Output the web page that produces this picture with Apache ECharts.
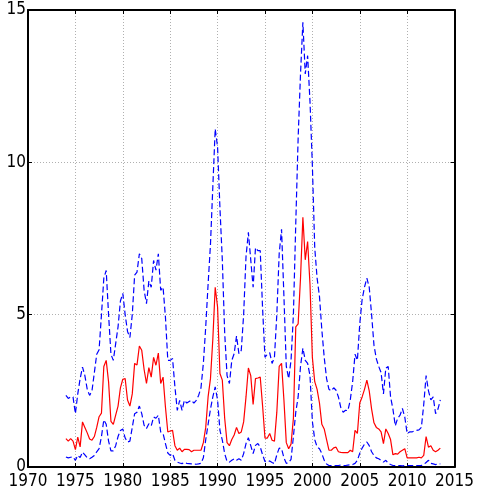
<!DOCTYPE html>
<html>
<head>
<meta charset="utf-8">
<script src="https://cdn.jsdelivr.net/npm/echarts@6/dist/echarts.min.js"></script>
<style>
  html, body { margin: 0; padding: 0; background: #fff; }
  #main { width: 477px; height: 496px; }
</style>
</head>
<body>
<div id="main"></div>
<script>
// quarterly observations, 1974Q1 .. 2013Q3
const startYear = 1974;
const step = 0.25;

const median = [
  0.93, 0.85, 0.93, 0.85, 0.57, 0.98, 0.66, 1.48, 1.3, 1.12,
  0.92, 0.88, 1.0, 1.3, 1.65, 1.77, 3.3, 3.5, 2.8, 1.5,
  1.4, 1.7, 2.0, 2.6, 2.88, 2.9, 2.2, 2.0, 2.4, 3.4,
  3.35, 3.97, 3.83, 3.2, 2.74, 3.26, 2.95, 3.6, 3.34, 3.74,
  2.74, 2.95, 1.97, 1.15, 1.18, 1.2, 0.7, 0.55, 0.62, 0.5,
  0.58, 0.58, 0.57, 0.5, 0.55, 0.55, 0.55, 0.55, 0.8, 1.3,
  2.3, 2.9, 4.2, 5.9, 5.25, 3.07, 2.85, 1.6, 0.8, 0.7,
  0.9, 1.05, 1.3, 1.1, 1.15, 1.48, 2.3, 3.25, 3.0, 2.05,
  2.9, 2.92, 2.95, 2.0, 0.95, 0.95, 1.1, 0.88, 0.85, 1.8,
  3.3, 3.4, 2.2, 0.8, 0.6, 0.75, 1.6, 4.6, 4.7, 6.2,
  8.2, 6.8, 7.4, 6.0, 3.6, 2.8, 2.55, 2.1, 1.4, 1.25,
  0.9, 0.55, 0.55, 0.63, 0.65, 0.5, 0.48, 0.47, 0.47, 0.47,
  0.55, 0.5, 1.2, 1.1, 2.1, 2.3, 2.55, 2.85, 2.5, 1.9,
  1.45, 1.3, 1.25, 1.15, 0.77, 1.25, 1.1, 0.9, 0.4, 0.44,
  0.42, 0.5, 0.55, 0.6, 0.3, 0.3, 0.3, 0.3, 0.3, 0.32,
  0.3, 0.38, 1.0, 0.65, 0.7, 0.55, 0.5, 0.55, 0.62
];

const upper = [
  2.35, 2.25, 2.3, 2.3, 1.75, 2.4, 2.9, 3.28, 3.0, 2.55,
  2.35, 2.5, 3.1, 3.7, 3.85, 5.0, 6.2, 6.45, 5.0, 3.7,
  3.5, 4.05, 4.6, 5.45, 5.7, 5.0, 4.45, 4.25, 5.0, 6.3,
  6.4, 7.0, 6.84, 5.8, 5.36, 6.1, 5.9, 6.78, 6.46, 7.0,
  5.8, 5.9, 4.92, 3.5, 3.5, 3.56, 2.63, 1.86, 2.19, 1.86,
  2.19, 2.1, 2.15, 2.19, 2.1, 2.19, 2.35, 2.6, 3.4, 4.6,
  6.0, 7.3, 9.2, 11.1, 10.5, 8.5, 6.8, 4.4, 3.0, 2.74,
  3.5, 3.72, 4.3, 3.72, 3.83, 5.0, 6.9, 7.7, 6.8, 5.9,
  7.2, 7.1, 7.1, 5.2, 3.6, 3.7, 3.75, 3.4, 3.6, 5.0,
  7.0, 7.8, 5.6, 3.3, 2.9, 3.5, 5.0, 8.0, 10.8, 12.9,
  14.6, 12.9, 13.5, 12.0, 9.9, 7.2, 6.2, 5.6, 4.5, 3.6,
  2.9, 2.55, 2.5, 2.6, 2.52, 2.3, 1.95, 1.8, 1.86, 1.85,
  2.2, 2.8, 3.7, 3.5, 4.7, 5.5, 5.9, 6.2, 5.9, 5.0,
  4.0, 3.55, 3.3, 3.1, 2.4, 3.25, 3.3, 2.3, 1.9, 1.35,
  1.6, 1.7, 1.92, 1.64, 1.1, 1.15, 1.15, 1.18, 1.2, 1.22,
  1.3, 2.05, 3.0, 2.5, 2.2, 2.3, 1.75, 1.9, 2.2
];

const lower = [
  0.33, 0.3, 0.32, 0.33, 0.22, 0.38, 0.31, 0.49, 0.4, 0.3,
  0.27, 0.32, 0.38, 0.5, 0.6, 1.0, 1.55, 1.4, 0.85, 0.53,
  0.53, 0.7, 1.0, 1.2, 1.25, 0.95, 0.82, 0.85, 1.3, 1.75,
  1.8, 2.0, 1.75, 1.37, 1.26, 1.42, 1.35, 1.64, 1.6, 1.7,
  1.15, 1.1, 0.77, 0.46, 0.38, 0.44, 0.22, 0.16, 0.13, 0.11,
  0.15, 0.12, 0.11, 0.1, 0.1, 0.09, 0.1, 0.12, 0.3, 0.9,
  1.4, 1.9, 2.3, 2.63, 2.2, 1.2, 0.88, 0.44, 0.18, 0.16,
  0.22, 0.27, 0.22, 0.27, 0.22, 0.44, 0.77, 0.96, 0.7, 0.44,
  0.71, 0.77, 0.66, 0.4, 0.18, 0.16, 0.2, 0.15, 0.11, 0.4,
  0.62, 0.6, 0.3, 0.12, 0.14, 0.25, 1.0, 1.8, 2.3, 3.3,
  3.9, 3.5, 3.4, 3.0, 1.5, 0.9, 0.66, 0.6, 0.44, 0.22,
  0.1, 0.05, 0.05, 0.05, 0.05, 0.05, 0.06, 0.05, 0.05, 0.06,
  0.07, 0.08, 0.12, 0.22, 0.45, 0.62, 0.75, 0.82, 0.7, 0.5,
  0.38, 0.3, 0.27, 0.22, 0.16, 0.22, 0.12, 0.08, 0.05, 0.05,
  0.05, 0.05, 0.04, 0.05, 0.05, 0.05, 0.05, 0.05, 0.05, 0.05,
  0.05, 0.08, 0.15, 0.22, 0.12, 0.1, 0.08, 0.1, 0.1
];

const xTicks = [1970, 1975, 1980, 1985, 1990, 1995, 2000, 2005, 2010, 2015];
const yTicks = [0, 5, 10, 15];

const toPairs = (arr) => arr.map((v, i) => [startYear + i * step, v]);

const font = '"Liberation Sans Narrow", "DejaVu Sans Condensed", "Liberation Sans", sans-serif';

let chart = echarts.init(document.getElementById("main"));

const frameAxis = {
  axisLine: { show: true, onZero: false, lineStyle: { color: "#000", width: 2 } },
  axisTick: { show: true, inside: true, length: 4, lineStyle: { color: "#000" } },
  splitLine: { show: false },
};

let option = {
  animation: false,
  backgroundColor: "#fff",
  grid: { left: 28, right: 15, top: 10, bottom: 29 },
  xAxis: [
    {
      type: "value",
      min: xTicks[0],
      max: xTicks[xTicks.length - 1],
      interval: 5,
      ...frameAxis,
      axisLabel: {
        color: "#000",
        fontFamily: font,
        fontSize: 17,
        margin: 6,
        formatter: (v) => String(v),
      },
      splitLine: {
        show: true,
        lineStyle: { color: "#b0b0b0", type: [1, 2], width: 1 },
      },
    },
    {
      type: "value",
      position: "top",
      min: xTicks[0],
      max: xTicks[xTicks.length - 1],
      interval: 5,
      ...frameAxis,
      axisLabel: { show: false },
    },
  ],
  yAxis: [
    {
      type: "value",
      min: yTicks[0],
      max: yTicks[yTicks.length - 1],
      interval: 5,
      ...frameAxis,
      axisLabel: {
        color: "#000",
        fontFamily: font,
        fontSize: 17,
        margin: 2,
      },
      splitLine: {
        show: true,
        lineStyle: { color: "#b0b0b0", type: [1, 2], width: 1 },
      },
    },
    {
      type: "value",
      position: "right",
      min: yTicks[0],
      max: yTicks[yTicks.length - 1],
      interval: 5,
      ...frameAxis,
      axisLabel: { show: false },
    },
  ],
  series: [
    {
      name: "upper",
      type: "line",
      data: toPairs(upper),
      showSymbol: false,
      lineStyle: { color: "#0000ff", width: 1.2, type: [6, 3] },
    },
    {
      name: "lower",
      type: "line",
      data: toPairs(lower),
      showSymbol: false,
      lineStyle: { color: "#0000ff", width: 1.2, type: [6, 3] },
    },
    {
      name: "median",
      type: "line",
      data: toPairs(median),
      showSymbol: false,
      lineStyle: { color: "#ff0000", width: 1.2 },
    },
  ],
};
chart.setOption(option);
</script>
</body>
</html>
